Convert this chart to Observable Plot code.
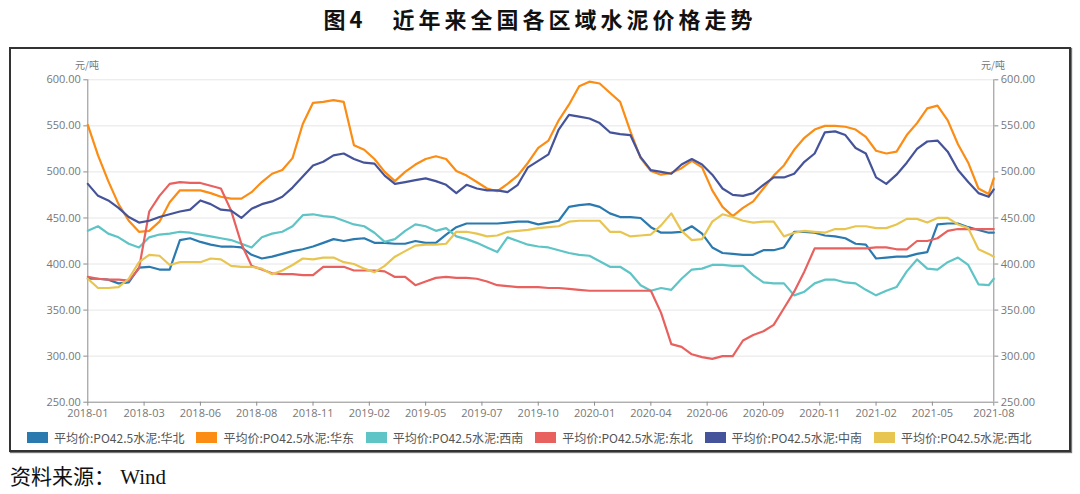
<!DOCTYPE html>
<html>
<head>
<meta charset="utf-8">
<script src="https://cdn.jsdelivr.net/npm/d3@7"></script>
<script src="https://cdn.jsdelivr.net/npm/@observablehq/plot@0.6"></script>
<style>
html,body{margin:0;padding:0;background:#fff;}
#wrap{position:relative;width:1080px;height:494px;overflow:hidden;background:#fff;}
#title{position:absolute;left:0;top:3px;width:1080px;text-align:center;font-family:"Noto Sans CJK SC",sans-serif;font-weight:bold;font-size:22px;line-height:30px;letter-spacing:4px;color:#111;}
#title .fig{margin-right:26px;}
#frame{position:absolute;left:9px;top:47px;width:1062px;height:405px;box-sizing:border-box;border:2px solid #333;box-shadow:1px 1px 1px #777;}
#plot{position:absolute;left:0;top:44px;}
.unit{position:absolute;top:57px;width:40px;text-align:center;font-family:"Noto Sans CJK SC",sans-serif;font-size:10px;color:#777;}
#legend{position:absolute;left:27px;top:429px;display:flex;font-family:"Noto Sans CJK SC",sans-serif;font-size:12px;color:#555;}
.item{width:169.4px;display:flex;align-items:center;height:16px;}
.sw{width:21px;height:11px;margin-right:6px;flex:none;}
#source{position:absolute;left:10px;top:465px;font-family:"Liberation Serif","Noto Sans CJK SC",serif;font-size:21px;line-height:24px;color:#111;white-space:pre;}
</style>
</head>
<body>
<div id="wrap">
  <div id="title"><span class="fig">图4</span>近年来全国各区域水泥价格走势</div>
  <div id="frame"></div>
  <div id="plot"></div>
  <div class="unit" style="left:67px">元/吨</div>
  <div class="unit" style="left:973px">元/吨</div>
  <div id="legend"></div>
  <div id="source">资料来源： Wind</div>
</div>
<script>
// category index of each sampled week (x axis is a category axis)
const sampleIdx = d3.range(0, 177, 2).concat([177]);

// tick positions (category index) and labels
const xTickIdx = [0, 11, 22, 33, 44, 55, 66, 77, 88, 99, 110, 121, 132, 143, 154, 165, 177];
const xTickLabels = ["2018-01","2018-03","2018-06","2018-08","2018-11","2019-02","2019-05","2019-07","2019-10","2020-01","2020-04","2020-06","2020-09","2020-11","2021-02","2021-05","2021-08"];
const yTicks = [250, 300, 350, 400, 450, 500, 550, 600];

const seriesNames = ["平均价:PO42.5水泥:华北","平均价:PO42.5水泥:华东","平均价:PO42.5水泥:西南","平均价:PO42.5水泥:东北","平均价:PO42.5水泥:中南","平均价:PO42.5水泥:西北"];
const seriesColors = ["#2a7ab0","#fb8c14","#5ec4c6","#e8615f","#45549a","#e8c550"];

const north = [384,384,383,379,380,396,397,394,394,426,428,424,421,419,419,418,410,406,408,411,414,416,419,423,427,425,427,428,423,423,
  422,422,425,423,423,432,440,444,444,444,444,445,446,446,443,445,447,462,464,465,462,455,451,451,450,440,434,434,435,
  441,433,418,412,411,410,410,415,415,418,435,435,434,431,430,428,422,421,406,407,408,408,411,413,443,444,444,440,437,434,434];
const east = [551,518,490,465,447,435,436,446,467,480,480,480,477,473,471,471,478,489,498,502,515,552,575,576,578,576,529,524,514,500,
  490,500,508,514,517,514,501,496,489,482,479,487,496,510,526,534,556,573,593,598,596,586,576,544,515,501,497,499,504,
  512,505,480,462,452,461,468,482,496,507,524,537,546,550,550,549,546,538,523,520,522,540,553,569,572,556,530,510,482,476,493];
const southwest = [436,441,433,429,422,418,429,432,433,435,434,432,430,428,426,422,418,429,433,435,441,453,454,452,451,447,443,441,434,424,
  427,436,443,441,436,439,430,427,423,418,413,429,425,421,419,418,415,412,410,409,403,397,397,390,377,371,374,372,384,
  394,395,399,399,398,398,388,380,379,379,366,370,379,383,383,380,379,372,366,371,375,392,405,395,394,402,407,399,378,377,384];
const northeast = [386,384,383,383,382,395,457,474,487,489,488,488,485,482,458,422,398,394,390,389,389,388,388,397,397,397,393,393,393,392,
  386,386,377,381,385,386,385,385,384,381,377,376,375,375,375,374,374,373,372,371,371,371,371,371,371,371,347,313,310,
  302,299,297,300,300,317,323,327,334,352,370,392,417,417,417,417,417,417,418,418,416,416,425,425,428,436,438,438,438,438,438];
const central = [487,474,469,461,451,445,447,451,454,457,459,469,465,459,458,450,460,465,468,473,483,495,507,511,518,520,514,510,509,496,
  487,489,491,493,490,486,477,486,482,480,480,478,486,505,512,519,546,562,560,558,553,543,541,540,516,502,500,498,508,
  514,508,497,482,475,474,477,486,494,494,498,511,520,543,544,540,526,520,494,487,497,510,525,533,534,522,502,489,477,473,481];
const northwest = [384,374,374,375,384,402,410,409,399,402,402,402,406,405,398,397,397,395,389,393,399,406,405,407,407,402,400,395,391,398,
  408,414,420,421,421,422,435,435,433,430,431,435,436,437,439,440,441,446,447,447,447,435,435,430,431,432,442,455,436,
  426,427,446,454,451,447,445,446,446,430,434,436,435,434,438,438,441,441,439,439,443,449,449,445,450,450,443,439,416,411,408];

const seriesValues = [north, east, southwest, northeast, central, northwest];
const rows = seriesValues.flatMap((vals, s) => sampleIdx.map((x, i) => ({x, y: vals[i], name: seriesNames[s]})));

const axisStyle = {tickSize: 4, tickPadding: 3, stroke: "#8c8c8c", fill: "#777", label: null};
const chart = Plot.plot({
  width: 1080,
  height: 380,
  marginTop: 35.3,
  marginBottom: 22.3,
  marginLeft: 87.3,
  marginRight: 86.7,
  style: {fontFamily: "'Open Sans','Noto Sans',sans-serif", fontSize: "11px", background: "transparent", overflow: "visible"},
  x: {type: "linear", domain: [0, 177], axis: null},
  y: {domain: [250, 600], axis: null},
  color: {domain: seriesNames, range: seriesColors},
  marks: [
    Plot.gridY(yTicks.slice(1), {stroke: "#e6e6e6", strokeOpacity: 1}),
    Plot.ruleX(d3.extent(sampleIdx), {stroke: "#8c8c8c"}),
    Plot.ruleY([yTicks[0]], {stroke: "#8c8c8c"}),
    Plot.axisY(yTicks, {anchor: "left", tickFormat: d3.format(".2f"), ...axisStyle}),
    Plot.axisY(yTicks, {anchor: "right", tickFormat: d3.format(".2f"), ...axisStyle}),
    Plot.axisX(xTickIdx, {anchor: "bottom", tickFormat: d => xTickLabels[xTickIdx.indexOf(d)], ...axisStyle}),
    Plot.line(rows, {x: "x", y: "y", z: "name", stroke: "name", strokeWidth: 2.2, strokeLinejoin: "round", strokeLinecap: "round"})
  ]
});
document.getElementById("plot").appendChild(chart);

const legend = document.getElementById("legend");
seriesNames.forEach((n, i) => {
  const it = document.createElement("div");
  it.className = "item";
  const sw = document.createElement("span");
  sw.className = "sw";
  sw.style.background = seriesColors[i];
  const tx = document.createElement("span");
  tx.textContent = n;
  it.appendChild(sw);
  it.appendChild(tx);
  legend.appendChild(it);
});
</script>
</body>
</html>
